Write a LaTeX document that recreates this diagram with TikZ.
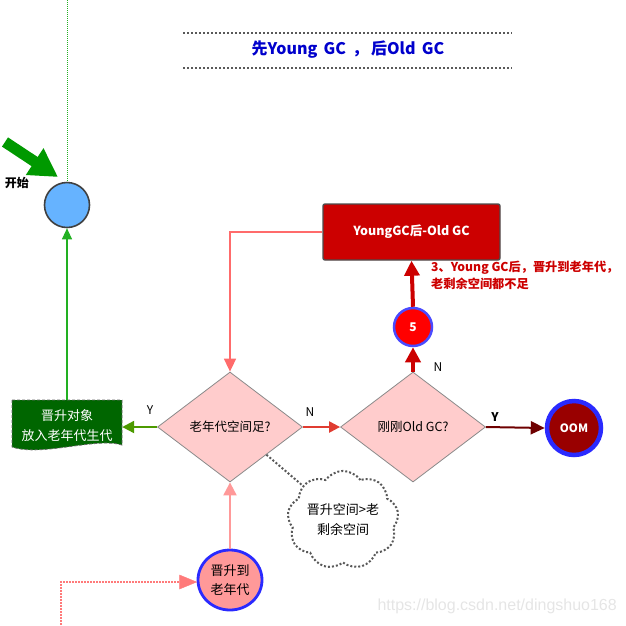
\documentclass[tikz,border=0pt]{standalone}
\usepackage{fontspec}
\setmainfont{Noto Sans CJK SC}
\newfontfamily\wmfont{Liberation Sans}
\usetikzlibrary{arrows.meta,shapes.geometric,shapes.symbols}
\definecolor{startblue}{HTML}{66B3FF}
\definecolor{biggreen}{HTML}{009900}
\definecolor{thingreen}{HTML}{22B022}
\definecolor{docgreen}{HTML}{006600}
\definecolor{diafill}{HTML}{FFCCCC}
\definecolor{diaborder}{HTML}{8A8A8A}
\definecolor{ygreen}{HTML}{4C9A00}
\definecolor{nred}{HTML}{E03C31}
\definecolor{oomfill}{HTML}{990000}
\definecolor{ringblue}{HTML}{2A2AFF}
\definecolor{deepred}{HTML}{CC0000}
\definecolor{salmon}{HTML}{FF6B6B}
\definecolor{pinkfill}{HTML}{FF9999}
\definecolor{darkline}{HTML}{6E0000}
\definecolor{titleblue}{HTML}{0000CC}
\begin{document}
\begin{tikzpicture}[x=1pt,y=-1pt,
  txt/.style={font=\fontsize{12.5}{16}\selectfont, align=center},
  decision/.style={diamond, draw=diaborder, fill=diafill, line width=0.8pt,
    minimum width=145pt, minimum height=110pt, inner sep=0pt, txt},
]
\useasboundingbox (0,0) rectangle (626,625);

% header
\draw[dotted, line width=2pt, draw=black!65] (183,33) -- (512,33);
\draw[dotted, line width=2pt, draw=black!65] (183,68) -- (512,68);
\node[font=\fontsize{16}{18}\selectfont\bfseries, text=titleblue] (title) at (348,50) {先Young\, GC\, ，\,后Old\, GC};

% start
\node[circle, draw=black!75, line width=1.6pt, fill=startblue, minimum size=45pt, inner sep=0pt] (start) at (67,205) {};
\coordinate (topend) at (67,0);
\draw[densely dotted, draw=thingreen, line width=1pt] (topend) -- (start.north);
\coordinate (gtail) at (5,142);
\coordinate (ghead) at (58,177);
\draw[draw=biggreen, line width=11pt, -{Triangle[length=28pt,width=30pt]}] (gtail) -- (ghead);
\node[font=\fontsize{12}{14}\selectfont\bfseries] (kaishi) at (17,183) {开始};

% document node
\node[minimum width=110pt, minimum height=50pt, inner sep=0pt] (doc) at (67,425) {};
\draw[fill=docgreen, draw=black!60, densely dashed, line width=0.8pt]
  (12,400) -- (122,400) -- (122,445) .. controls (96,437) and (42,457) .. (12,447) -- cycle;
\node[txt, text=white, font=\fontsize{13}{20}\selectfont] (doctext) at (67,426) {晋升对象\\放入老年代生代};
\draw[draw=thingreen, line width=1.1pt, -{Triangle[length=11pt,width=10pt]}] (doc.north) -- (start.south);

% decisions
\node[decision] (d1) at (230,427) {老年代空间足?};
\node[decision] (d2) at (413,427) {刚刚Old GC?};

\draw[draw=ygreen, line width=2.2pt, -{Triangle[length=12pt,width=12pt]}] (d1.west) -- (d1.west -| doc.east);
\node[font=\fontsize{12}{14}\selectfont] (ylab1) at (150,410) {Y};
\draw[draw=nred, line width=2.2pt, -{Triangle[length=11pt,width=11pt]}] (d1.east) -- (d2.west);
\node[font=\fontsize{12}{14}\selectfont] (nlab1) at (310,412) {N};

% OOM
\node[circle, draw=ringblue, line width=4.5pt, fill=oomfill, minimum size=54pt, inner sep=0pt,
  text=white, font=\fontsize{11.5}{13}\selectfont\bfseries] (oom) at (574,428) {OOM};
\draw[draw=darkline, line width=2pt, -{Triangle[length=14pt,width=13pt]}] (d2.east) -- (oom.west);
\node[font=\fontsize{12}{14}\selectfont\bfseries] (ylab2) at (495,417) {Y};

% circle 5
\node[circle, draw=ringblue!85!white, line width=2.5pt, fill=red, minimum size=38pt, inner sep=0pt,
  text=white, font=\fontsize{12}{14}\selectfont\bfseries] (c5) at (413,327) {5};
\draw[draw=deepred, line width=4pt, -{Triangle[length=15pt,width=15pt]}] (d2.north) -- (c5.south);
\node[font=\fontsize{12}{14}\selectfont] (nlab2) at (438,367) {N};

% rect
\node[rectangle, rounded corners=2pt, draw=black!70, line width=1.4pt, fill=deepred,
  minimum width=177pt, minimum height=56pt, text=white, font=\fontsize{12.5}{14}\selectfont\bfseries] (yg) at (411.5,232) {YoungGC后-Old GC};
\draw[draw=deepred, line width=4pt, -{Triangle[length=15pt,width=15pt]}] (c5.north) -- (yg.south);
\node[anchor=north west, align=left, text=deepred, font=\fontsize{12.2}{17}\selectfont\bfseries, inner sep=0pt] (note) at (431,261) {3、Young GC后，晋升到老年代，\\老剩余空间都不足};

\draw[draw=salmon, line width=1.6pt, -{Triangle[length=13pt,width=12pt]}] (yg.west) -| (d1.north);

% cloud
\node[cloud, cloud puffs=9, cloud puff arc=110, aspect=1.2, draw=black!65, dotted, line width=2pt,
  minimum width=104pt, minimum height=88pt, inner sep=0pt, txt, font=\fontsize{13}{20}\selectfont] (cl) at (343,520) {晋升空间>老\\剩余空间};
\draw[dotted, draw=black!65, line width=2pt] (d1.south east) -- (cl);

% promote ellipse
\node[ellipse, draw=ringblue, line width=2.8pt, fill=pinkfill, minimum width=64pt, minimum height=60pt,
  inner sep=0pt, txt, font=\fontsize{13}{19}\selectfont] (ell) at (230,580) {晋升到\\老年代};
\draw[draw=pinkfill, line width=2.2pt, -{Triangle[length=13pt,width=13pt]}] (ell.north) -- (d1.south);
\coordinate (botend) at (61,625);
\draw[densely dotted, draw=salmon!90, line width=2pt] (botend) |- ([xshift=-14pt]ell.west |- 0,582);
\draw[draw=salmon!90, fill=salmon!90] ([xshift=-17pt]ell.west |- 0,575) -- (ell.west |- 0,582) -- ([xshift=-17pt]ell.west |- 0,589) -- cycle;

% watermark
\node[text=black!10, font=\fontsize{16}{18}\selectfont\wmfont, anchor=east, inner sep=0pt] (wm) at (617,606) {https://blog.csdn.net/dingshuo168};
\end{tikzpicture}
\end{document}
